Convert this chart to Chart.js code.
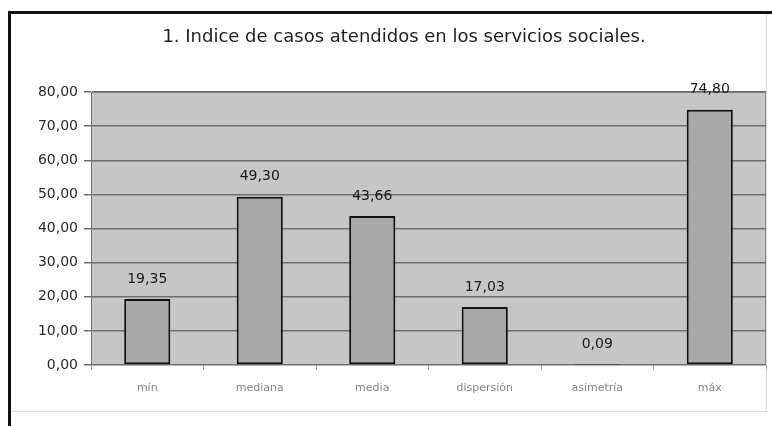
<!DOCTYPE html>
<html>
<head>
<meta charset="utf-8">
<script src="https://cdn.jsdelivr.net/npm/chart.js@4/dist/chart.umd.min.js"></script>
<style>
  body { margin: 0; background: #fff; }
  .wrap { position: relative; width: 772px; height: 426px; overflow: hidden; }
  /* black frame of the sheet (left + top only, the rest is cut off) */
  .frame { position: absolute; left: 8px; top: 11px; width: 800px; height: 500px;
           border-left: 3px solid #111; border-top: 3px solid #111; }
  .inner { position: absolute; left: 11px; top: 14px; width: 755px; height: 397px;
           border-right: 1px solid #dcdcdc; border-bottom: 1px solid #dcdcdc; }
  canvas { position: absolute; left: 0; top: 0; }
</style>
</head>
<body>
<div class="wrap">
  <div class="frame"></div>
  <div class="inner"></div>
  <canvas id="chart" width="772" height="426"></canvas>
</div>
<script>
const categories = ['mín', 'mediana', 'media', 'dispersión', 'asimetría', 'máx']
const values = [19.35, 49.30, 43.66, 17.03, 0.09, 74.80]
const yTicks = [0, 10, 20, 30, 40, 50, 60, 70, 80]
const titleText = '1. Indice de casos atendidos en los servicios sociales.'

// numbers with a decimal comma, two decimals
function fmt(v) {
  return v.toFixed(2).replace('.', ',')
}

// grey plot area behind the bars, plus the title (sits a bit right of the canvas centre)
const plotBg = {
  id: 'plotBg',
  beforeDraw(chart) {
    const a = chart.chartArea
    const ctx = chart.ctx
    ctx.save()
    ctx.fillStyle = '#c6c6c6'
    ctx.fillRect(a.left, a.top, a.right - a.left, a.bottom - a.top)
    ctx.strokeStyle = '#8a8a8a'
    ctx.lineWidth = 1
    ctx.strokeRect(a.left + 0.5, a.top + 0.5, a.right - a.left - 1, a.bottom - a.top - 1)

    ctx.font = '18px "DejaVu Sans"'
    ctx.fillStyle = '#222'
    ctx.textAlign = 'center'
    ctx.textBaseline = 'middle'
    ctx.fillText(titleText, 404, 37)
    ctx.restore()
  }
}

// value labels above each bar
const valueLabels = {
  id: 'valueLabels',
  afterDatasetsDraw(chart) {
    const ctx = chart.ctx
    const meta = chart.getDatasetMeta(0)
    ctx.save()
    ctx.font = '14px "DejaVu Sans"'
    ctx.fillStyle = '#1a1a1a'
    ctx.textAlign = 'center'
    ctx.textBaseline = 'middle'
    meta.data.forEach((bar, i) => {
      ctx.fillText(fmt(values[i]), bar.x, bar.y - 20)
    })
    ctx.restore()
  }
}

new Chart(document.getElementById('chart'), {
  type: 'bar',
  data: {
    labels: categories,
    datasets: [{
      data: values,
      backgroundColor: '#a9a9a9',
      borderColor: '#111',
      borderWidth: 2,
      borderSkipped: false,
      categoryPercentage: 1,
      barPercentage: 0.41
    }]
  },
  options: {
    responsive: false,
    animation: false,
    layout: { padding: { left: 0, right: 6, top: 92, bottom: 21 } },
    plugins: {
      legend: { display: false },
      tooltip: { enabled: false },
      title: { display: false }
    },
    scales: {
      x: {
        grid: { display: true, drawOnChartArea: false, color: '#aaa', tickLength: 5 },
        border: { display: false },
        ticks: { color: '#858585', font: { family: 'DejaVu Sans', size: 11 }, padding: 12 },
        afterFit(scale) { scale.height = 40 }
      },
      y: {
        min: 0,
        max: 80,
        afterBuildTicks(scale) { scale.ticks = yTicks.map(v => ({ value: v })) },
        grid: { color: '#6e6e6e', lineWidth: 1.5, tickLength: 7 },
        border: { display: true, color: '#777', width: 1 },
        ticks: {
          color: '#2a2a2a',
          font: { family: 'DejaVu Sans', size: 14 },
          padding: 6,
          callback: v => fmt(v)
        },
        afterFit(scale) { scale.width = 91 }
      }
    }
  },
  plugins: [plotBg, valueLabels]
})
</script>
</body>
</html>
